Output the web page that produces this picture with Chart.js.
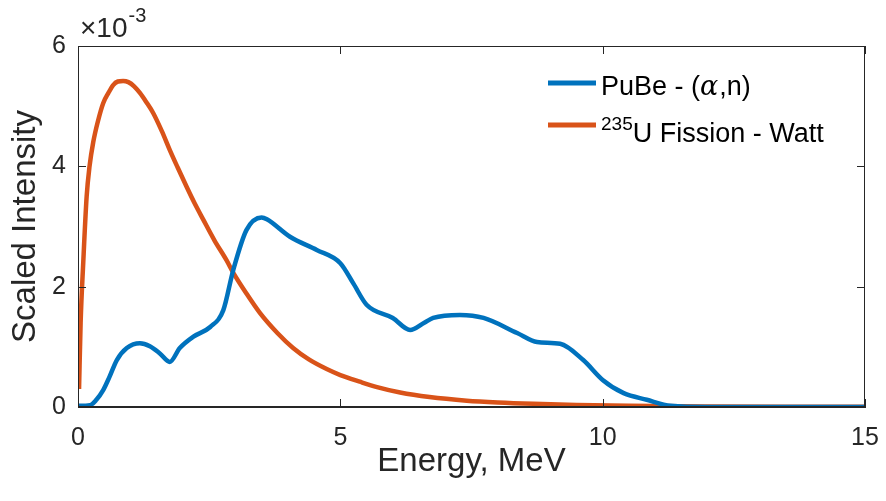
<!DOCTYPE html>
<html>
<head>
<meta charset="utf-8">
<script src="https://cdn.jsdelivr.net/npm/chart.js@4.4.0/dist/chart.umd.min.js"></script>
<style>
  html, body { margin: 0; padding: 0; background: #fff; }
  #wrap { width: 886px; height: 501px; }
</style>
</head>
<body>
<div id="wrap"><canvas id="myChart" width="886" height="501"></canvas></div>
<script>
// energies in MeV, intensities in units of 1e-3
var pubeE = [0, 0.23, 0.35, 0.48, 0.6, 0.74, 0.93, 1.18, 1.37, 1.56, 1.75, 1.94, 2.2, 2.52, 2.77, 2.96, 3.21, 3.5, 3.6, 4.04, 4.55, 5.0, 5.25, 5.5, 6.0, 6.33, 6.6, 6.77, 7.28, 7.73, 8.37, 8.75, 9.19, 9.63, 10.0, 10.4, 10.84, 11.3, 12, 15];
var pubeI = [0.02, 0.03, 0.12, 0.28, 0.50, 0.78, 0.98, 1.06, 1.01, 0.89, 0.75, 0.98, 1.17, 1.33, 1.61, 2.28, 2.94, 3.15, 3.12, 2.83, 2.61, 2.39, 2.05, 1.70, 1.48, 1.28, 1.40, 1.48, 1.53, 1.48, 1.23, 1.08, 1.05, 0.78, 0.45, 0.23, 0.12, 0.02, 0.0, 0.0];

var wattE = [0.02, 0.05, 0.1, 0.165, 0.22, 0.29, 0.38, 0.48, 0.58, 0.67, 0.76, 0.86, 0.96, 1.07, 1.18, 1.3, 1.43, 1.6, 1.75, 1.9, 2.07, 2.22, 2.39, 2.6, 2.83, 2.96, 3.2, 3.47, 3.8, 4.1, 4.4, 4.74, 5.0, 5.37, 5.7, 6.14, 6.7, 7.41, 8.0, 8.68, 9.5, 10.5, 12, 13.5, 15];
var wattI = [0.30, 1.4, 2.4, 3.5, 4.0, 4.4, 4.75, 5.05, 5.22, 5.35, 5.41, 5.42, 5.40, 5.33, 5.22, 5.07, 4.89, 4.58, 4.27, 3.98, 3.66, 3.39, 3.11, 2.77, 2.44, 2.23, 1.90, 1.56, 1.23, 0.98, 0.79, 0.63, 0.53, 0.42, 0.33, 0.24, 0.165, 0.105, 0.075, 0.052, 0.033, 0.02, 0.01, 0.005, 0.003];

var xTicks = [0, 5, 10, 15];
var yTicks = [0, 2, 4, 6];

var azul = '#0072BD';
var naranja = '#D95319';
var gris = '#262626';
var fuente = '"Liberation Sans", Arial, Helvetica, sans-serif';

function puntos(xs, ys) {
  var out = [];
  for (var i = 0; i < xs.length; i++) {
    out.push({x: xs[i], y: ys[i] / 1000});
  }
  return out;
}

// box, inner ticks, exponent and legend, MATLAB style
var adornos = {
  id: 'adornos',
  afterDraw: function(chart) {
    var ctx = chart.ctx;
    var a = chart.chartArea;
    var sx = chart.scales.x, sy = chart.scales.y;
    ctx.save();
    ctx.strokeStyle = gris;
    ctx.lineWidth = 1;
    ctx.strokeRect(a.left + 0.5, a.top + 0.5, a.right - a.left - 1, a.bottom - a.top - 1);
    var t = 8;
    ctx.beginPath();
    xTicks.forEach(function(v) {
      var px = Math.round(sx.getPixelForValue(v)) + 0.5;
      ctx.moveTo(px, a.bottom); ctx.lineTo(px, a.bottom - t);
      ctx.moveTo(px, a.top); ctx.lineTo(px, a.top + t);
    });
    yTicks.forEach(function(v) {
      var py = Math.round(sy.getPixelForValue(v / 1000)) + 0.5;
      ctx.moveTo(a.left, py); ctx.lineTo(a.left + t, py);
      ctx.moveTo(a.right, py); ctx.lineTo(a.right - t, py);
    });
    ctx.stroke();

    // exponent
    ctx.fillStyle = gris;
    ctx.textBaseline = 'alphabetic';
    ctx.textAlign = 'left';
    ctx.font = '28px ' + fuente;
    ctx.fillText('\u00d710', 80, 37);
    var w = ctx.measureText('\u00d710').width;
    ctx.font = '20px ' + fuente;
    ctx.fillText('-3', 80 + w + 1, 22);

    // legend
    var lx0 = 548, lx1 = 596, tx = 601;
    ctx.lineWidth = 5;
    ctx.strokeStyle = azul;
    ctx.beginPath(); ctx.moveTo(lx0, 83); ctx.lineTo(lx1, 83); ctx.stroke();
    ctx.strokeStyle = naranja;
    ctx.beginPath(); ctx.moveTo(lx0, 125); ctx.lineTo(lx1, 125); ctx.stroke();

    ctx.fillStyle = '#000';
    ctx.font = '27px ' + fuente;
    var s1 = 'PuBe - (';
    ctx.fillText(s1, tx, 95);
    var x = tx + ctx.measureText(s1).width;
    ctx.font = 'italic 27px "DejaVu Serif", "Liberation Serif", serif';
    ctx.fillText('\u03b1', x, 95);
    x += ctx.measureText('\u03b1').width + 1;
    ctx.font = '27px ' + fuente;
    ctx.fillText(',n)', x, 95);

    ctx.font = '19px ' + fuente;
    ctx.fillText('235', tx, 130);
    x = tx + ctx.measureText('235').width;
    ctx.font = '27px ' + fuente;
    ctx.fillText('U Fission - Watt', x, 142);
    ctx.restore();
  }
};

var ctx = document.getElementById('myChart').getContext('2d');
var chart = new Chart(ctx, {
  type: 'line',
  data: {
    datasets: [{
      label: 'PuBe - (\u03b1,n)',
      data: puntos(pubeE, pubeI),
      borderColor: azul,
      backgroundColor: azul,
      borderWidth: 4.5,
      pointRadius: 0,
      cubicInterpolationMode: 'monotone'
    }, {
      label: '235U Fission - Watt',
      data: puntos(wattE, wattI),
      borderColor: naranja,
      backgroundColor: naranja,
      borderWidth: 4.5,
      pointRadius: 0,
      cubicInterpolationMode: 'monotone'
    }]
  },
  options: {
    responsive: false,
    animation: false,
    layout: {padding: {left: 0, right: 21, top: 46, bottom: 0}},
    plugins: {legend: {display: false}, tooltip: {enabled: false}},
    scales: {
      x: {
        type: 'linear',
        min: 0, max: 15,
        afterFit: function(s) { s.height = 94; s.paddingLeft = 0; s.paddingRight = 0; },
        afterBuildTicks: function(s) { s.ticks = xTicks.map(function(v) { return {value: v}; }); },
        grid: {display: false, drawTicks: false},
        border: {display: true, color: gris},
        ticks: {color: gris, font: {family: fuente, size: 25}, padding: 16, maxRotation: 0},
        title: {display: true, text: 'Energy, MeV', color: gris, font: {family: fuente, size: 33}, padding: {top: 4, bottom: 19}}
      },
      y: {
        min: 0, max: 0.006,
        afterFit: function(s) { s.width = 78; s.paddingTop = 0; s.paddingBottom = 0; },
        afterBuildTicks: function(s) { s.ticks = yTicks.map(function(v) { return {value: v / 1000}; }); },
        grid: {display: false, drawTicks: false},
        border: {display: true, color: gris},
        ticks: {color: gris, font: {family: fuente, size: 25}, padding: 12,
          callback: function(v) { return Math.round(v * 1000).toString(); }},
        title: {display: true, text: 'Scaled Intensity', color: gris, font: {family: fuente, size: 33}, padding: {top: 6, bottom: 0}}
      }
    }
  },
  plugins: [adornos]
});
</script>
</body>
</html>
